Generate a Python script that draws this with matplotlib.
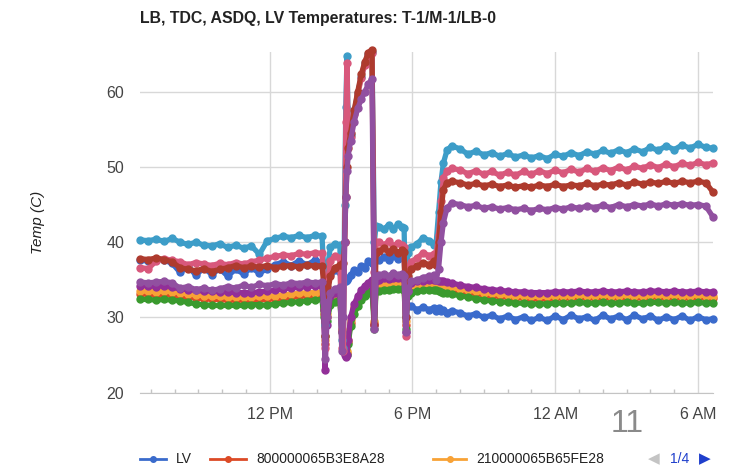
import matplotlib.pyplot as plt
from matplotlib.lines import Line2D

plt.rcParams['font.family'] = ['Liberation Sans', 'DejaVu Sans']

# time of day in hours (values > 24 are the next morning)
hours = [
    6.55, 6.9, 7.23, 7.57, 7.9, 8.23, 8.57, 8.9, 9.23, 9.57, 9.9, 10.23,
    10.57, 10.9, 11.23, 11.57, 11.9, 12.23, 12.57, 12.9, 13.23, 13.57, 13.9, 14.2,
    14.27, 14.33, 14.4, 14.55, 14.75, 14.95,
    15.03, 15.1, 15.15, 15.2, 15.25, 15.3,
    15.4, 15.55, 15.7, 15.85, 16.0, 16.15, 16.3,
    16.4, 16.47,
    16.6, 16.8, 17.0, 17.2, 17.4, 17.55, 17.65,
    17.72, 17.8,
    17.95, 18.2, 18.45, 18.7, 18.9,
    19.0, 19.1, 19.2, 19.3, 19.45, 19.65,
    20.0, 20.33, 20.67, 21.0, 21.33, 21.67, 22.0, 22.33, 22.67, 23.0, 23.33, 23.67,
    24.0, 24.33, 24.67, 25.0, 25.33, 25.67, 26.0, 26.33, 26.67, 27.0, 27.33, 27.67,
    28.0, 28.33, 28.67, 29.0, 29.33, 29.67, 30.0, 30.33, 30.62]

lv = [
    37.6, 37.5, 37.8, 37.6, 37.2, 36.0, 36.8, 35.6, 36.6, 35.7, 36.5, 35.5,
    36.4, 35.8, 36.6, 35.9, 36.5, 37.0, 37.4, 36.9, 37.5, 37.0, 37.6, 37.3,
    36.0, 30.0, 34.0, 35.8, 36.3, 36.0,
    35.5, 35.0, 34.8, 34.8, 35.0, 35.2,
    35.6, 36.3, 36.0, 36.9, 36.6, 37.5, 37.3,
    37.5, 37.8,
    37.6, 38.0, 37.7, 38.1, 37.8, 38.2, 37.9,
    33.0, 31.5,
    31.5, 31.0, 31.4, 31.0, 31.3,
    30.9, 31.2, 30.8, 31.0, 30.6, 30.9,
    30.6, 30.2, 30.5, 30.0, 30.3, 29.8, 30.2, 29.7, 30.1, 29.6, 30.0, 29.6,
    30.2, 29.7, 30.3, 29.8, 30.1, 29.6, 30.3, 29.8, 30.2, 29.7, 30.3, 29.8,
    30.2, 29.6, 30.1, 29.7, 30.2, 29.6, 30.1, 29.7, 29.8]

lb_800 = [
    33.1, 33.1, 33.0, 33.1, 33.0, 32.9, 32.7, 32.6, 32.5, 32.4, 32.4, 32.3,
    32.3, 32.3, 32.3, 32.4, 32.4, 32.5, 32.6, 32.7, 32.8, 32.9, 32.9, 33.0,
    30.5, 26.5, 30.0, 32.2, 32.6, 32.8,
    28.3, 25.8, 25.3, 25.0, 25.3, 26.8,
    29.3, 31.1, 32.1, 32.9, 33.5, 33.9, 34.2,
    29.3, 34.0,
    34.1, 34.2, 34.2, 34.3, 34.2, 34.3, 34.2,
    29.0, 33.3,
    33.9, 34.0, 34.1, 34.2, 34.2,
    34.1, 34.0, 34.0, 33.9, 33.8, 33.7,
    33.5, 33.3, 33.2, 33.0, 32.9, 32.8, 32.7, 32.6, 32.6, 32.5, 32.5, 32.5,
    32.6, 32.6, 32.6, 32.7, 32.6, 32.6, 32.7, 32.6, 32.6, 32.7, 32.6, 32.6,
    32.7, 32.7, 32.6, 32.7, 32.6, 32.6, 32.7, 32.6, 32.6]

lb_210 = [
    33.5, 33.5, 33.4, 33.5, 33.4, 33.3, 33.1, 33.0, 32.9, 32.8, 32.8, 32.7,
    32.7, 32.7, 32.7, 32.8, 32.8, 32.9, 33.0, 33.1, 33.2, 33.3, 33.3, 33.4,
    31.0, 27.0, 30.5, 32.5, 32.9, 33.1,
    28.5, 26.0, 25.5, 25.3, 25.5, 27.0,
    29.6, 31.4, 32.4, 33.2, 33.8, 34.2, 34.5,
    29.5, 34.3,
    34.4, 34.5, 34.5, 34.6, 34.5, 34.6, 34.5,
    29.5, 33.5,
    34.2, 34.3, 34.4, 34.5, 34.5,
    34.4, 34.3, 34.3, 34.2, 34.1, 34.0,
    33.8, 33.6, 33.5, 33.3, 33.2, 33.1, 33.0, 32.9, 32.9, 32.8, 32.8, 32.8,
    32.9, 32.9, 32.9, 33.0, 32.9, 32.9, 33.0, 32.9, 32.9, 33.0, 32.9, 32.9,
    33.0, 33.0, 32.9, 33.0, 32.9, 32.9, 33.0, 32.9, 32.9]

s_green = [
    32.4, 32.4, 32.3, 32.4, 32.3, 32.2, 32.0, 31.8, 31.7, 31.6, 31.6, 31.6,
    31.6, 31.6, 31.7, 31.7, 31.6, 31.8, 31.9, 32.0, 32.1, 32.2, 32.3, 32.4,
    30.0, 27.5, 29.5, 31.6, 32.1, 32.4,
    28.0, 26.0, 25.5, 25.2, 25.0, 26.5,
    28.8, 30.5, 31.5, 32.3, 32.9, 33.3, 33.6,
    28.5, 33.5,
    33.5, 33.7, 33.7, 33.8, 33.8, 33.8, 33.7,
    28.5, 32.8,
    33.3, 33.5, 33.6, 33.7, 33.7,
    33.6, 33.5, 33.4, 33.3, 33.2, 33.1,
    32.9, 32.7, 32.5, 32.3, 32.2, 32.1, 32.0, 31.9, 31.9, 31.8, 31.8, 31.8,
    31.9, 31.9, 31.9, 32.0, 31.9, 31.9, 32.0, 31.9, 31.9, 32.0, 31.9, 31.9,
    32.0, 32.0, 31.9, 32.0, 31.9, 31.9, 32.0, 31.9, 31.9]

s_purple = [
    34.2, 34.2, 34.1, 34.2, 34.0, 33.8, 33.7, 33.6, 33.5, 33.5, 33.4, 33.4,
    33.3, 33.3, 33.3, 33.4, 33.5, 33.6, 33.8, 33.9, 34.0, 34.1, 34.2, 34.2,
    31.0, 23.0, 29.0, 32.8, 33.3, 33.6,
    28.0, 25.5, 25.0, 24.8, 25.0, 27.0,
    30.0, 31.8, 32.8, 33.6, 34.2, 34.6, 35.0,
    29.0, 34.8,
    35.0, 35.2, 35.1, 35.3, 35.2, 35.3, 35.2,
    28.0, 33.5,
    34.6, 34.8, 34.9, 35.0, 35.0,
    35.0, 34.9, 34.9, 34.8, 34.7, 34.6,
    34.3, 34.1, 34.0, 33.8, 33.7, 33.6, 33.5, 33.4, 33.4, 33.3, 33.3, 33.3,
    33.4, 33.4, 33.4, 33.5, 33.4, 33.4, 33.5, 33.4, 33.4, 33.5, 33.4, 33.4,
    33.5, 33.5, 33.4, 33.5, 33.4, 33.4, 33.5, 33.4, 33.4]

s_cyan = [
    40.3, 40.2, 40.4, 40.1, 40.5, 40.0, 39.7, 40.0, 39.6, 39.5, 39.8, 39.3,
    39.6, 39.2, 39.5, 38.4, 40.2, 40.5, 40.8, 40.6, 40.9, 40.6, 40.9, 40.8,
    36.5, 29.0, 36.0, 39.3, 39.8, 39.6,
    27.0, 26.0, 45.0, 58.0, 64.7, 55.0,
    54.3, 57.3, 59.8, 62.0, 63.8, 65.0, 65.3,
    40.0, 42.2,
    42.0, 41.7, 42.3, 41.8, 42.4, 42.0, 41.9,
    30.0, 38.5,
    39.3, 39.8, 40.6, 40.2, 39.6,
    40.0, 44.0, 48.0, 50.5, 52.2, 52.8,
    52.4, 51.7, 52.1, 51.6, 51.9, 51.4, 51.8, 51.3, 51.6, 51.2, 51.5, 51.1,
    51.7, 51.4, 51.9, 51.5, 52.0, 51.7, 52.2, 51.8, 52.3, 51.9, 52.4, 52.0,
    52.6, 52.2, 52.8, 52.3, 52.9, 52.5, 53.0, 52.6, 52.5]

s_pink = [
    36.6, 36.5, 37.5, 37.8, 37.6, 37.4, 37.0, 37.3, 37.1, 36.9, 37.2, 37.0,
    37.3, 37.1, 37.4, 37.6, 37.9, 38.1, 38.3, 38.2, 38.5, 38.4, 38.6, 38.5,
    35.0, 26.0, 34.0, 37.5, 38.2, 37.9,
    26.0, 25.5, 40.0, 56.0, 63.8, 54.5,
    54.0, 57.0, 59.6, 61.8, 63.6, 64.8, 65.2,
    36.0, 40.0,
    40.0, 39.6, 40.1, 39.5, 39.9, 39.6, 39.4,
    27.5, 36.5,
    37.4, 37.9, 38.6, 38.2, 38.4,
    38.5, 41.0, 45.5, 48.5, 49.4, 49.8,
    49.6, 49.1, 49.5, 49.0, 49.4, 48.9, 49.3, 48.9, 49.4, 49.0, 49.5, 49.1,
    49.6, 49.2, 49.7, 49.3, 49.8, 49.4, 49.9, 49.5, 50.0, 49.6, 50.1, 49.8,
    50.3, 49.9, 50.4, 50.0, 50.5, 50.2, 50.6, 50.3, 50.5]

s_darkred = [
    37.8, 37.7, 37.9, 37.7, 37.4, 36.6, 36.4, 36.2, 36.5, 36.1, 36.4, 36.6,
    36.9, 36.6, 36.8, 36.7, 36.9, 36.6, 36.8, 36.9, 36.7, 37.0, 36.8, 36.9,
    34.5, 27.5, 32.5, 35.5, 36.6, 37.0,
    37.0, 37.2, 40.0, 46.0, 50.0, 52.5,
    54.5, 57.5, 60.0, 62.3, 64.0, 65.2, 65.6,
    29.0, 38.6,
    38.8, 39.2, 38.7, 39.1, 38.6, 39.0, 38.7,
    30.0, 35.5,
    36.4, 36.8, 37.3, 37.0, 37.5,
    37.0, 40.0, 44.0, 47.0, 47.9, 48.1,
    47.9, 47.6, 47.8, 47.5, 47.7, 47.4, 47.6, 47.3, 47.5, 47.3, 47.6, 47.4,
    47.7, 47.4, 47.6, 47.5, 47.8, 47.5, 47.7, 47.6, 47.9, 47.6, 48.0, 47.7,
    48.0, 47.8, 48.1, 47.8, 48.1, 47.9, 48.1, 47.9, 46.7]

s_lavender = [
    34.7, 34.6, 34.7, 34.8, 34.6, 33.9, 34.1, 33.7, 33.9, 33.6, 33.8, 34.1,
    33.9, 34.3, 34.0, 34.4, 34.2, 34.5, 34.3, 34.6, 34.5, 34.7, 34.6, 34.7,
    32.0, 24.5, 30.0, 33.2, 33.8, 34.0,
    25.5, 30.0, 40.0, 46.0, 49.5, 51.5,
    53.5, 56.0, 57.8, 59.0, 60.0, 61.0, 61.7,
    28.5, 35.5,
    35.6, 35.8, 35.5, 35.9, 35.6, 35.8, 35.5,
    28.0, 33.5,
    34.8, 35.0, 35.3, 35.5, 35.6,
    35.0, 36.5, 40.0, 42.6, 44.5, 45.2,
    45.0, 44.7, 44.9, 44.5, 44.7, 44.4, 44.6, 44.3, 44.5, 44.2, 44.5, 44.3,
    44.6, 44.4, 44.7, 44.5, 44.8, 44.6, 44.9, 44.6, 45.0, 44.7, 45.0, 44.8,
    45.1, 44.8, 45.1, 44.9, 45.1, 44.9, 45.0, 44.8, 43.4]

# drawing order follows the series order of the original chart
series = [
    ("LV", lv, "#3a6bcc"),
    ("800000065B3E8A28", lb_800, "#dc4a26"),
    ("210000065B65FE28", lb_210, "#f8a236"),
    ("", s_green, "#3a9a2e"),
    ("", s_purple, "#922f98"),
    ("", s_cyan, "#3d9dc8"),
    ("", s_pink, "#d8587c"),
    ("", s_darkred, "#ae3b2e"),
    ("", s_lavender, "#9150a0"),
]

y_ticks = [20, 30, 40, 50, 60]
x_ticks = [12, 18, 24, 30]
x_labels = ["12 PM", "6 PM", "12 AM", "6 AM"]

W, H = 729, 466
fig = plt.figure(figsize=(W / 100, H / 100), dpi=100)
ax = fig.add_axes([140 / W, 1 - 392.7 / H, 572.7 / W, 340.9 / H])

for name, vals, col in series:
    ax.plot(hours, vals, color=col, lw=3.8, marker='o', ms=5, mec=col,
            solid_joinstyle='round', solid_capstyle='round', clip_on=False)

ax.set_xlim(hours[0], hours[-1])
ax.set_ylim(20, 65.3)
ax.set_yticks(y_ticks)
ax.set_xticks(x_ticks)
ax.set_xticklabels(x_labels)
ax.set_xticks(range(7, 31), minor=True)
ax.set_axisbelow(True)
ax.grid(True, which='major', color='#d8d8d8', lw=1)
for s in ['top', 'right', 'left']:
    ax.spines[s].set_visible(False)
ax.spines['bottom'].set_color('#c4c4c4')
ax.tick_params(axis='both', which='major', length=0, labelsize=11.5,
               labelcolor='#444444')
ax.tick_params(axis='y', pad=11.5)
ax.tick_params(axis='x', which='major', pad=10)
ax.tick_params(axis='x', which='minor', direction='in', length=3,
               color='#c4c4c4', width=1)

fig.text(140 / W, 1 - 18 / H, "LB, TDC, ASDQ, LV Temperatures: T-1/M-1/LB-0",
         fontsize=11.4, fontweight='bold', ha='left', va='center', color='#222222')
fig.text(38 / W, 1 - 222 / H, "Temp (C)", rotation=90, fontsize=11,
         style='italic', ha='center', va='center', color='#222222')

# legend (first page of the paged legend)
leg_y = 1 - 459 / H
for (name, vals, col), x0, x1 in zip(series[:3], [140, 210, 433], [166, 246, 466]):
    fig.add_artist(Line2D([x0 / W, x1 / W], [leg_y, leg_y], color=col, lw=2,
                          transform=fig.transFigure))
    fig.add_artist(Line2D([(x0 + x1) / 2 / W], [leg_y], color=col, marker='o',
                          ms=4, transform=fig.transFigure))
    fig.text((x1 + 10) / W, leg_y, name, fontsize=10, ha='left', va='center',
             color='#222222')

fig.text(654 / W, leg_y, "\u25C0", fontsize=11, ha='center', va='center',
         color='#c4c4c4', family='DejaVu Sans')
fig.text(680 / W, leg_y, "1/4", fontsize=10, ha='center', va='center',
         color='#1f3fcc')
fig.text(705 / W, leg_y, "\u25B6", fontsize=11, ha='center', va='center',
         color='#1f3fcc', family='DejaVu Sans')

fig.text(627 / W, 1 - 424 / H, "11", fontsize=23, ha='center', va='center',
         color='#8a8a8a')

fig.savefig("out.png", dpi=100)
